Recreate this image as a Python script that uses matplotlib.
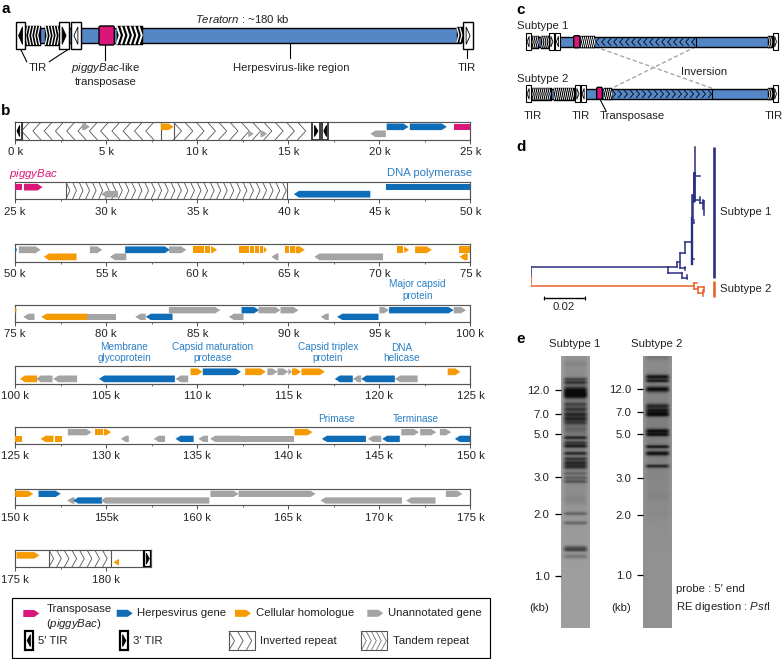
"""Teratorn genome figure: schematic, gene map, inversion, tree and Southern blot."""

import numpy as np
import matplotlib
matplotlib.use("Agg")
import matplotlib.pyplot as plt
from matplotlib.patches import Polygon, Rectangle, FancyBboxPatch

plt.rcParams["font.family"] = ["Liberation Sans", "DejaVu Sans"]
plt.rcParams["mathtext.fontset"] = "custom"
plt.rcParams["mathtext.rm"] = "Liberation Sans"
plt.rcParams["mathtext.it"] = "Liberation Sans:italic"

WIDTH, HEIGHT = 783, 659
FS = 8.2
TEXT = "#222222"
EDGE = "#555555"
COLORS = {"p": "#DA1678", "b": "#0F6DB7", "o": "#F59A00", "g": "#A4A4A4"}
LABEL_BLUE = "#2A7FC4"
BAR_BLUE = "#5586C6"

# genes: start kb, end kb, row (0 upper, 1 lower), strand (1, -1, 0 flat), kind
TRACK_1 = [(3.68, 4.1, 0, 1, "g"), (8.0, 8.7, 0, 1, "o"), (12.8, 13.1, 1, 1, "g"), (13.47, 13.84, 1, 1, "g"),
           (19.5, 20.35, 1, -1, "g"), (20.4, 21.6, 0, 1, "b"), (21.67, 23.7, 0, 1, "b"), (24.07, 25, 0, 0, "p")]
TRACK_2 = [(25, 25.4, 0, 0, "p"), (25.48, 26.5, 0, 1, "p"), (29.72, 30.65, 1, -1, "g"),
           (40.3, 44.5, 1, -1, "b"), (45.35, 50, 0, 0, "b")]
TRACK_3 = [(50, 50.1, 0, 1, "b"), (50.2, 51.4, 0, 1, "g"), (51.57, 53.37, 1, -1, "o"), (54.1, 54.78, 0, 1, "g"),
           (55.2, 56.1, 1, -1, "g"), (56.04, 58.5, 0, 1, "b"), (58.45, 59.4, 0, 1, "g"),
           (59.77, 60.36, 0, 0, "o"), (60.41, 60.72, 0, 0, "o"), (60.76, 61.09, 0, 1, "o"),
           (62.3, 62.85, 0, 0, "o"), (62.9, 63.1, 0, 0, "o"), (63.16, 63.4, 0, 0, "o"), (63.44, 63.6, 0, 0, "o"),
           (63.65, 63.83, 0, 1, "o"), (64.07, 64.46, 1, -1, "g"), (64.8, 65.05, 0, 0, "o"), (65.1, 65.35, 0, 0, "o"),
           (65.4, 65.9, 0, 1, "o"), (66.43, 70.2, 1, -1, "g"), (70.97, 71.3, 0, 0, "o"), (71.36, 71.63, 0, 1, "o"),
           (71.96, 72.88, 0, 1, "o"), (74.36, 75, 0, 0, "o"), (74.4, 74.85, 1, -1, "o")]
TRACK_4 = [(75, 75.09, 0, 1, "o"), (75.44, 76.06, 1, -1, "g"), (76.43, 78.95, 1, -1, "o"), (78.95, 80.55, 1, 0, "g"),
           (81.59, 82.17, 1, -1, "g"), (82.17, 83.64, 1, -1, "b"), (83.44, 86.26, 0, 1, "g"), (86.73, 87.54, 1, -1, "g"),
           (87.43, 88.4, 0, 1, "b"), (88.36, 89.57, 0, 1, "g"), (89.57, 90.56, 0, 1, "g"), (91.78, 92.22, 1, -1, "g"),
           (92.68, 94.95, 1, -1, "b"), (95, 95.53, 0, 1, "g"), (95.53, 99.08, 0, 1, "b"), (99.08, 99.76, 0, 1, "g")]
TRACK_5 = [(100.26, 101.2, 1, -1, "o"), (101.13, 102.05, 1, -1, "g"), (102.09, 103.4, 1, -1, "g"),
           (104.6, 108.77, 1, -1, "b"), (108.8, 109.5, 1, -1, "g"), (109.63, 110.29, 0, 1, "o"), (110.3, 112.4, 0, 1, "b"),
           (112.63, 113.76, 0, 1, "o"), (113.85, 114.4, 0, 1, "g"), (114.4, 115, 0, 1, "g"), (115, 115.2, 0, 1, "g"),
           (115.2, 115.7, 0, 1, "o"), (115.72, 117, 0, 1, "o"), (117.55, 118.54, 1, -1, "b"), (118.54, 119, 1, -1, "g"),
           (119, 120.85, 1, -1, "b"), (120.85, 122.1, 1, -1, "g"), (123.75, 124.45, 0, 1, "o")]
TRACK_6 = [(125, 125.4, 1, 0, "o"), (126.39, 127.1, 1, -1, "o"), (127.2, 127.58, 1, 0, "o"), (127.89, 129.2, 0, 1, "g"),
           (129.4, 129.8, 0, 0, "o"), (129.87, 130.27, 0, 1, "o"), (130.8, 131.24, 1, -1, "g"), (132.6, 133.23, 1, -1, "g"),
           (133.8, 134.8, 1, -1, "b"), (135.06, 135.59, 1, -1, "g"), (135.7, 137.36, 1, -1, "g"), (137.36, 140.3, 1, 0, "g"),
           (140.34, 141.33, 0, 1, "o"), (141.84, 144.26, 1, -1, "b"), (144.37, 145.1, 1, -1, "g"), (145.15, 146.12, 1, -1, "b"),
           (146.2, 147.18, 0, 1, "g"), (147.24, 148.12, 0, 1, "g"), (148.32, 148.94, 0, 1, "g"), (149.14, 150, 1, -1, "b")]
TRACK_7 = [(150, 150.99, 0, 1, "o"), (151.28, 152.5, 0, 1, "b"), (152.85, 153.26, 1, -1, "g"), (153.18, 154.77, 1, -1, "b"),
           (154.68, 160.66, 1, -1, "g"), (160.72, 162.27, 0, 1, "g"), (162.27, 166.5, 0, 1, "g"), (166.76, 171.24, 1, -1, "g"),
           (171.47, 173.08, 1, -1, "g"), (173.65, 174.56, 0, 1, "g")]
TRACK_8 = [(175.07, 176.33, 0, 1, "o"), (180.4, 180.7, 1, -1, "o")]
TRACK_GENES = [TRACK_1, TRACK_2, TRACK_3, TRACK_4, TRACK_5, TRACK_6, TRACK_7, TRACK_8]

TRACK_STARTS = [0, 25, 50, 75, 100, 125, 150, 175]
TRACK_ENDS = [25, 50, 75, 100, 125, 150, 175, 182.47]
TRACK_TOPS = [122.3, 181.7, 244.3, 305, 366.3, 427, 488.7, 550]
TRACK_BOTTOMS = [139.7, 199.3, 262, 321.7, 384, 443.7, 505.3, 567.3]
TICK_SUFFIX = {155: "155k"}

# repeats: start kb, end kb, pointing direction, spacing kb
REPEATS_1 = [(0.35, 8.0, -1, 0.62), (8.7, 16.3, 1, 0.62)]
REPEATS_2 = [(27.78, 39.95, 1, 0.36)]
REPEATS_8 = [(176.85, 180.25, 1, 0.42)]
TIRS_1 = [(0, 0.35, -1), (16.3, 16.75, 1), (16.85, 17.2, -1)]
TIRS_8 = [(182.08, 182.47, 1)]

# tree: distance from root (substitutions/site), row position for both ends
TREE_NAVY = [(0, 0.0677, 397, 397), (0.0677, 0.0677, 397, 413), (0.0677, 0.0718, 397, 397), (0.0718, 0.0718, 380, 397),
             (0.0718, 0.0734, 380, 380), (0.0734, 0.0734, 355, 400), (0.0734, 0.0759, 355, 355), (0.0759, 0.0759, 320, 355),
             (0.0734, 0.0759, 400, 400), (0.0759, 0.0759, 395, 405), (0.0677, 0.0742, 413, 413), (0.0742, 0.0742, 413, 430),
             (0.0742, 0.0770, 430, 430), (0.0770, 0.0770, 420, 433), (0.0759, 0.0792, 320, 320), (0.0792, 0.0792, 180, 388),
             (0.0792, 0.0805, 372, 372), (0.0792, 0.0802, 255, 255), (0.0792, 0.0802, 260, 260), (0.0792, 0.0802, 265, 265),
             (0.0797, 0.0797, 180, 250), (0.0802, 0.0802, 115, 200), (0.0808, 0.0808, 35, 120), (0.0802, 0.0833, 123, 123),
             (0.0802, 0.0833, 195, 195), (0.0833, 0.0833, 185, 205), (0.0833, 0.0846, 205, 205), (0.0846, 0.0846, 195, 222),
             (0.0846, 0.0854, 198, 198), (0.0854, 0.0854, 198, 240)]
TREE_ORANGE = [(0, 0.0805, 453, 453), (0.0805, 0.0805, 445, 462), (0.0805, 0.082, 445, 445), (0.0805, 0.0825, 462, 462),
               (0.0825, 0.0825, 456, 475), (0.0825, 0.0854, 456, 456), (0.0854, 0.0854, 456, 470), (0.0825, 0.0846, 473, 473),
               (0.0846, 0.0846, 465, 483)]
TREE_ROOT_NAVY = (397, 425)
TREE_ROOT_ORANGE = (425, 453)
SCALE_BAR = 0.02

# gel: band row, strength, sigma
GEL_1_BANDS = [(103, .08, 6), (150, .55, 3), (160, .65, 3), (185, 1.0, 8), (200, .75, 5), (225, .5, 4), (240, .6, 4),
               (255, .7, 4), (268, .7, 4), (280, .5, 4), (300, .2, 6), (325, .7, 3), (340, .55, 3), (350, .8, 3),
               (372, .7, 3), (388, .6, 3), (400, .7, 4), (412, .7, 4), (432, .3, 3), (445, .35, 3), (456, .45, 3),
               (510, .1, 8), (552, .4, 3), (580, .4, 3), (655, .55, 4), (662, .45, 3), (680, .3, 4)]
GEL_2_BANDS = [(85, .15, 5), (143, .9, 4), (155, .8, 3), (180, .95, 5), (230, .7, 4), (243, .8, 4), (255, 1.0, 4),
               (305, .9, 4), (316, .85, 3), (352, .85, 3), (372, .9, 4), (410, .75, 3), (500, .05, 10), (550, .03, 10)]
GEL_SIZES = ["12.0", "7.0", "5.0", "3.0", "2.0", "1.0"]
GEL_1_ROWS = [180, 252, 313, 441, 553, 737]
GEL_2_ROWS = [177, 247, 311, 443, 554, 734]


def px_axes(fig, x0, y0, x1, y1, **kwargs):
    """Add an axes given its box in image pixels (origin top left)."""
    return fig.add_axes([x0 / WIDTH, 1 - y1 / HEIGHT, (x1 - x0) / WIDTH, (y1 - y0) / HEIGHT], **kwargs)


def chevrons(ax, x0, x1, y0, y1, direction, step, depth, color=EDGE, lw=0.6, zorder=1):
    """Draw a row of > or < marks between x0 and x1."""
    mid = (y0 + y1) / 2
    for x in np.arange(x0, x1 - depth, step):
        if direction > 0:
            ax.plot([x, x + depth, x], [y0, mid, y1], color=color, lw=lw, zorder=zorder, solid_joinstyle="miter")
        else:
            ax.plot([x + depth, x, x + depth], [y0, mid, y1], color=color, lw=lw, zorder=zorder, solid_joinstyle="miter")


def tir_box(ax, x0, x1, y0, y1, direction, edge="black", lw=1.0, solid=True, zorder=4):
    """Box with a triangle marking a terminal inverted repeat."""
    ax.add_patch(Rectangle((x0, y0), x1 - x0, y1 - y0, fc="white", ec=edge, lw=lw, zorder=zorder))
    mid = (y0 + y1) / 2
    w = x1 - x0
    tip, base = (x0 + 0.72 * w, x0 + 0.3 * w) if direction > 0 else (x0 + 0.28 * w, x0 + 0.7 * w)
    pts = [(base, y0 + 0.18 * (y1 - y0)), (tip, mid), (base, y1 - 0.18 * (y1 - y0))]
    ax.add_patch(Polygon(pts, closed=True, fc="black" if solid else "white", ec="black", lw=0.6, zorder=zorder + 1))


def gene(ax, start, end, top, bottom, strand, color, head=0.28):
    """One gene arrow in track coordinates."""
    mid = (top + bottom) / 2
    head = min(head, end - start)
    if strand > 0:
        pts = [(start, top), (end - head, top), (end, mid), (end - head, bottom), (start, bottom)]
    elif strand < 0:
        pts = [(end, top), (start + head, top), (start, mid), (start + head, bottom), (end, bottom)]
    else:
        pts = [(start, top), (end, top), (end, bottom), (start, bottom)]
    ax.add_patch(Polygon(pts, closed=True, fc=color, ec="none", zorder=3))


def draw_track(fig, index):
    start, end = TRACK_STARTS[index], TRACK_ENDS[index]
    x0 = 15.2
    x1 = x0 + (end - start) * 18.21
    ax = px_axes(fig, x0, TRACK_TOPS[index], x1, TRACK_BOTTOMS[index])
    ax.set_xlim(start, end)
    ax.set_ylim(1, 0)
    ax.set_yticks([])
    for spine in ax.spines.values():
        spine.set_color(EDGE)
        spine.set_linewidth(0.85)
    majors = np.arange(start, end + 0.01, 5)
    ax.set_xticks(majors)
    ax.set_xticklabels([TICK_SUFFIX.get(int(v), f"{int(v)} k") for v in majors], fontsize=FS, color=TEXT)
    ax.set_xticks(np.arange(start + 2.5, end, 5), minor=True)
    ax.tick_params(axis="x", which="major", length=2.6, width=0.75, pad=2.6, color=EDGE)
    ax.tick_params(axis="x", which="minor", length=1.4, width=0.6, color=EDGE)
    shift = -0.05 if index == 0 else 0
    for kb0, kb1, row, strand, kind in TRACK_GENES[index]:
        top, bottom = (0.12, 0.50) if row == 0 else (0.52, 0.90)
        gene(ax, kb0, kb1, top + shift, bottom + shift, strand, COLORS[kind])
    return ax


def draw_repeats(ax, repeats):
    for kb0, kb1, direction, step in repeats:
        ax.axvline(kb0, color=EDGE, lw=0.8, zorder=2)
        ax.axvline(kb1, color=EDGE, lw=0.8, zorder=2)
        chevrons(ax, kb0, kb1, 0, 1, direction, step, step * 0.62 if step < 0.5 else step * 0.7)


def coil(ax, x0, x1, y0, y1, step=3.0, direction=1, lw=0.9):
    """Black block crossed by white chevrons, the repeat arrays of the schematics."""
    ax.add_patch(Rectangle((x0, y0), x1 - x0, y1 - y0, fc="black", ec="black", lw=0.3, zorder=3))
    chevrons(ax, x0 + 0.4, x1, y0 + 1.2, y1 - 1.2, direction, step, step * 0.6, color="white", lw=lw, zorder=3.5)


def blue_bar(ax, x0, x1, y0, y1):
    ax.add_patch(Rectangle((x0, y0), x1 - x0, y1 - y0, fc=BAR_BLUE, ec="black", lw=1.0, zorder=2))


def pink_box(ax, x0, x1, y0, y1):
    ax.add_patch(FancyBboxPatch((x0 + 1, y0 + 1), x1 - x0 - 2, y1 - y0 - 2, boxstyle="round,pad=1,rounding_size=1.5",
                                fc=COLORS["p"], ec="black", lw=1.0, zorder=5))


def label(ax, x, y, text, ha="center", color=TEXT, size=FS, **kwargs):
    ax.text(x, y, text, ha=ha, va="center", color=color, fontsize=size, **kwargs)


def draw_panel_a(ov):
    blue_bar(ov, 35, 461, 28.3, 42.7)
    coil(ov, 25.3, 40.7, 25.5, 45.5, direction=-1)
    coil(ov, 45, 59.3, 25.5, 45.5)
    coil(ov, 116.7, 142.7, 26, 44.5, step=4.4, lw=1.4)
    coil(ov, 456.7, 463.3, 27, 43)
    tir_box(ov, 16, 25.3, 22, 49.3, -1)
    tir_box(ov, 59.3, 68.7, 22, 49.3, 1)
    tir_box(ov, 71.3, 80.7, 22, 49.3, -1, solid=False)
    tir_box(ov, 463.3, 472.7, 22, 49.3, 1, solid=False)
    pink_box(ov, 99, 114.3, 26, 45)
    for xs, ys in [((20.7, 26.7), (49.3, 61.7)), ((68.3, 49.3), (49.3, 61.7)), ((105, 105), (45, 60)),
                   ((290.3, 290.3), (43, 58.3)), ((466.7, 466.7), (49.3, 58.3))]:
        ov.plot(xs, ys, color="black", lw=0.8, zorder=2)
    label(ov, 37.5, 68, "TIR")
    label(ov, 105.5, 68, r"$\it{piggyBac}$-like")
    label(ov, 105.5, 82, "transposase")
    label(ov, 291, 68, "Herpesvirus-like region")
    label(ov, 467, 68, "TIR")
    label(ov, 242, 19, r"$\it{Teratorn}$ : ~180 kb")


def draw_panel_c(ov):
    def zx(value):
        return 500 + value / 3

    # subtype 1
    blue_bar(ov, zx(85), zx(812), 37.3, 46.7)
    coil(ov, zx(92), zx(118), 35.5, 48.5, step=2.0, lw=0.6)
    coil(ov, zx(124), zx(148), 35.5, 48.5, step=2.0, lw=0.6)
    coil(ov, zx(243), zx(285), 36, 48, step=2.0, lw=0.7)
    coil(ov, zx(805), zx(820), 36, 48, step=2.0, lw=0.6)
    chevrons(ov, zx(287), zx(585), 38.5, 45.5, -1, 6.0, 3.2, color="black", lw=0.6, zorder=3)
    ov.plot([zx(587)] * 2, [37.3, 46.7], color="black", lw=0.8, zorder=3)
    tir_box(ov, zx(77), zx(92), 33.3, 50, -1, lw=0.8, solid=False)
    tir_box(ov, zx(148), zx(163), 33.3, 50, 1, lw=0.8, solid=False)
    tir_box(ov, zx(165), zx(180), 33.3, 50, -1, lw=0.8, solid=False)
    tir_box(ov, zx(820), zx(833), 33.3, 50, 1, lw=0.8, solid=False)
    pink_box(ov, zx(221), zx(240), 35.7, 47.7)
    # subtype 2
    blue_bar(ov, zx(85), zx(812), 89.3, 98.7)
    coil(ov, zx(92), zx(155), 87.5, 100.5, step=2.0, lw=0.6)
    coil(ov, zx(162), zx(226), 87.5, 100.5, step=2.0, lw=0.6)
    coil(ov, zx(312), zx(335), 88, 100, step=2.0, lw=0.6)
    coil(ov, zx(805), zx(820), 88, 100, step=2.0, lw=0.6)
    chevrons(ov, zx(337), zx(635), 90.5, 97.5, 1, 6.0, 3.2, color="black", lw=0.6, zorder=3)
    ov.plot([zx(637)] * 2, [89.3, 98.7], color="black", lw=0.8, zorder=3)
    tir_box(ov, zx(77), zx(92), 85.3, 102.3, -1, lw=0.8, solid=False)
    tir_box(ov, zx(226), zx(241), 85.3, 102.3, 1, lw=0.8, solid=False)
    tir_box(ov, zx(242), zx(257), 85.3, 102.3, -1, lw=0.8, solid=False)
    tir_box(ov, zx(820), zx(833), 85.3, 102.3, 1, lw=0.8, solid=False)
    pink_box(ov, zx(290), zx(307), 87.3, 99.3)
    ov.plot([zx(300), zx(318)], [99.3, 111], color="black", lw=0.8, zorder=2)
    for xa, xb in [(285, 637), (587, 335)]:
        ov.plot([zx(xa), zx(xb)], [46.7, 88.3], color="#A8A8A8", lw=1.0, ls=(0, (3, 1.8)), zorder=1)
    label(ov, zx(50), 25.7, "Subtype 1", ha="left")
    label(ov, zx(50), 79.3, "Subtype 2", ha="left")
    label(ov, 703.7, 72.3, "Inversion")
    label(ov, zx(98), 116, "TIR")
    label(ov, zx(243), 116, "TIR")
    label(ov, zx(396), 116, "Transposase")
    label(ov, zx(820), 116, "TIR")


def draw_panel_d(fig):
    navy, orange = "#2A2F7F", "#E8622C"
    # 40.67 px per 0.02 on x; rows map 3:1 onto pixels
    ax = px_axes(fig, 530.7, 135, 530.7 + 0.09 / SCALE_BAR * 40.67, 315)
    ax.set_xlim(0, 0.09)
    ax.set_ylim(540, 0)
    ax.axis("off")
    for x0, x1, y0, y1 in TREE_NAVY:
        ax.plot([x0, x1], [y0, y1], color=navy, lw=1.1, solid_capstyle="projecting")
    for x0, x1, y0, y1 in TREE_ORANGE:
        ax.plot([x0, x1], [y0, y1], color=orange, lw=1.1, solid_capstyle="projecting")
    ax.plot([0, 0], TREE_ROOT_NAVY, color=navy, lw=1.1)
    ax.plot([0, 0], TREE_ROOT_ORANGE, color=orange, lw=1.1)
    # thick stretches of the trunk
    ax.plot([0.0792, 0.0792], [250, 388], color=navy, lw=1.7)
    ax.plot([0.0802, 0.0802], [115, 195], color=navy, lw=2.0)
    ax.plot([0.0066, 0.0066 + SCALE_BAR], [488, 488], color="black", lw=1.0, marker="|", ms=3.5, mew=0.8)
    return ax


def draw_gel(fig, x0, bands, rows, background, smear):
    ax = px_axes(fig, x0, 356, x0 + 28.6, 628.3)
    yy = np.arange(78, 895)
    xx = np.linspace(-1, 1, 40)
    image = np.full((yy.size, xx.size), background)
    profile = np.clip((0.92 - np.abs(xx)) / 0.3, 0, 1) ** 0.7
    image -= smear * np.exp(-((yy - 300.0) / 210.0) ** 2)[:, None] * profile
    for row, strength, sigma in bands:
        image -= 0.5 * strength * np.exp(-((yy - row) / (sigma * 1.7)) ** 2)[:, None] * profile
    ax.imshow(np.clip(image, 0.04, 1), cmap="gray", vmin=0, vmax=1, extent=(0, 1, 895, 78), aspect="auto", interpolation="bilinear")
    for spine in ax.spines.values():
        spine.set_visible(False)
    ax.set_xticks([])
    ax.set_yticks(rows)
    ax.set_yticklabels(GEL_SIZES, fontsize=FS, color=TEXT)
    ax.tick_params(axis="y", length=4.4, width=0.9, pad=3.6, color="black")
    return ax


def draw_legend(ov):
    ov.add_patch(Rectangle((12, 598), 478, 60, fc="white", ec="black", lw=0.85, zorder=1))
    row1 = 613.3
    for x0, kind in [(116.7, "b"), (235, "o"), (367.3, "g")]:
        gene(ov, x0, x0 + 16, row1 - 3.5, row1 + 3.5, 1, COLORS[kind], head=5)
    gene(ov, 23.3, 39.3, 610, 617, 1, COLORS["p"], head=5)
    label(ov, 46.3, 609.3, "Transposase", ha="left")
    label(ov, 46.3, 624, r"($\it{piggyBac}$)", ha="left")
    label(ov, 136.7, row1, "Herpesvirus gene", ha="left")
    label(ov, 255.7, row1, "Cellular homologue", ha="left")
    label(ov, 388.3, row1, "Unannotated gene", ha="left")
    tir_box(ov, 25, 32.7, 631.3, 650, -1, lw=1.6)
    tir_box(ov, 120.3, 128, 631.3, 650, 1, lw=1.6)
    label(ov, 37.7, 640.7, "5′ TIR", ha="left")
    label(ov, 133, 640.7, "3′ TIR", ha="left")
    ov.add_patch(Rectangle((228.7, 631.3), 26.6, 19, fc="white", ec=EDGE, lw=0.8, zorder=2))
    chevrons(ov, 229, 255, 631.3, 650.3, 1, 8.6, 5.5, zorder=3)
    ov.add_patch(Rectangle((361, 631.3), 26.3, 19, fc="white", ec=EDGE, lw=0.8, zorder=2))
    chevrons(ov, 361.3, 387, 631.3, 650.3, 1, 5.0, 5.0, lw=0.5, zorder=3)
    label(ov, 259.7, 640.7, "Inverted repeat", ha="left")
    label(ov, 392.7, 640.7, "Tandem repeat", ha="left")


def main():
    fig = plt.figure(figsize=(WIDTH / 100, HEIGHT / 100), dpi=100)

    tracks = [draw_track(fig, i) for i in range(len(TRACK_STARTS))]
    draw_repeats(tracks[0], REPEATS_1)
    draw_repeats(tracks[1], REPEATS_2)
    draw_repeats(tracks[7], REPEATS_8)
    for kb0, kb1, direction in TIRS_1:
        tir_box(tracks[0], kb0, kb1, 0, 1, direction, edge="#333333", lw=1.3)
    for kb0, kb1, direction in TIRS_8:
        tir_box(tracks[7], kb0, kb1, 0, 1, direction, edge="black", lw=1.6)

    draw_gel(fig, 560.7, GEL_1_BANDS, GEL_1_ROWS, 0.62, 0.13)
    draw_gel(fig, 642.7, GEL_2_BANDS, GEL_2_ROWS, 0.57, 0.07)
    draw_panel_d(fig)

    ov = fig.add_axes([0, 0, 1, 1], zorder=10)
    ov.set_xlim(0, WIDTH)
    ov.set_ylim(HEIGHT, 0)
    ov.axis("off")
    ov.patch.set_alpha(0)

    draw_panel_a(ov)
    draw_panel_c(ov)
    draw_legend(ov)

    for x, y, letter in [(6, 9, "a"), (6, 111, "b"), (521, 10, "c"), (521, 147, "d"), (521, 339, "e")]:
        ov.text(x, y, letter, fontsize=11, fontweight="bold", color="black", ha="center", va="center")

    label(ov, 33.3, 173.7, r"$\it{piggyBac}$", color=COLORS["p"])
    label(ov, 472.3, 172.7, "DNA polymerase", ha="right", color=LABEL_BLUE)
    for x, y, text in [(417.3, 284.3, "Major capsid"), (417.3, 296, "protein"),
                       (124.3, 347.3, "Membrane"), (124.3, 358.3, "glycoprotein"),
                       (212.3, 347.3, "Capsid maturation"), (212.3, 358.3, "protease"),
                       (328, 347.3, "Capsid triplex"), (328, 358, "protein"),
                       (401.7, 348, "DNA"), (401.7, 358.3, "helicase"),
                       (336.7, 419.3, "Primase"), (415.7, 419.3, "Terminase")]:
        label(ov, x, y, text, color=LABEL_BLUE, size=7.2)

    # panel d labels and group bars
    ov.plot([714.3, 714.3], [147.3, 277.7], color="#2A2F7F", lw=1.9, solid_capstyle="butt")
    ov.plot([714.3, 714.3], [281, 297], color="#E8622C", lw=1.9, solid_capstyle="butt")
    label(ov, 720, 212.3, "Subtype 1", ha="left")
    label(ov, 720, 289, "Subtype 2", ha="left")
    label(ov, 564, 307, "0.02")

    # panel e labels
    label(ov, 574.7, 344.3, "Subtype 1")
    label(ov, 657, 344.3, "Subtype 2")
    label(ov, 539.3, 607.7, "(kb)")
    label(ov, 621, 607.7, "(kb)")
    label(ov, 675.7, 589.3, "probe : 5′ end", ha="left")
    label(ov, 675.7, 606.7, r"RE digestion : $\it{Pst}$I", ha="left")

    fig.savefig("out.png", dpi=100)
    plt.close(fig)


if __name__ == "__main__":
    main()
